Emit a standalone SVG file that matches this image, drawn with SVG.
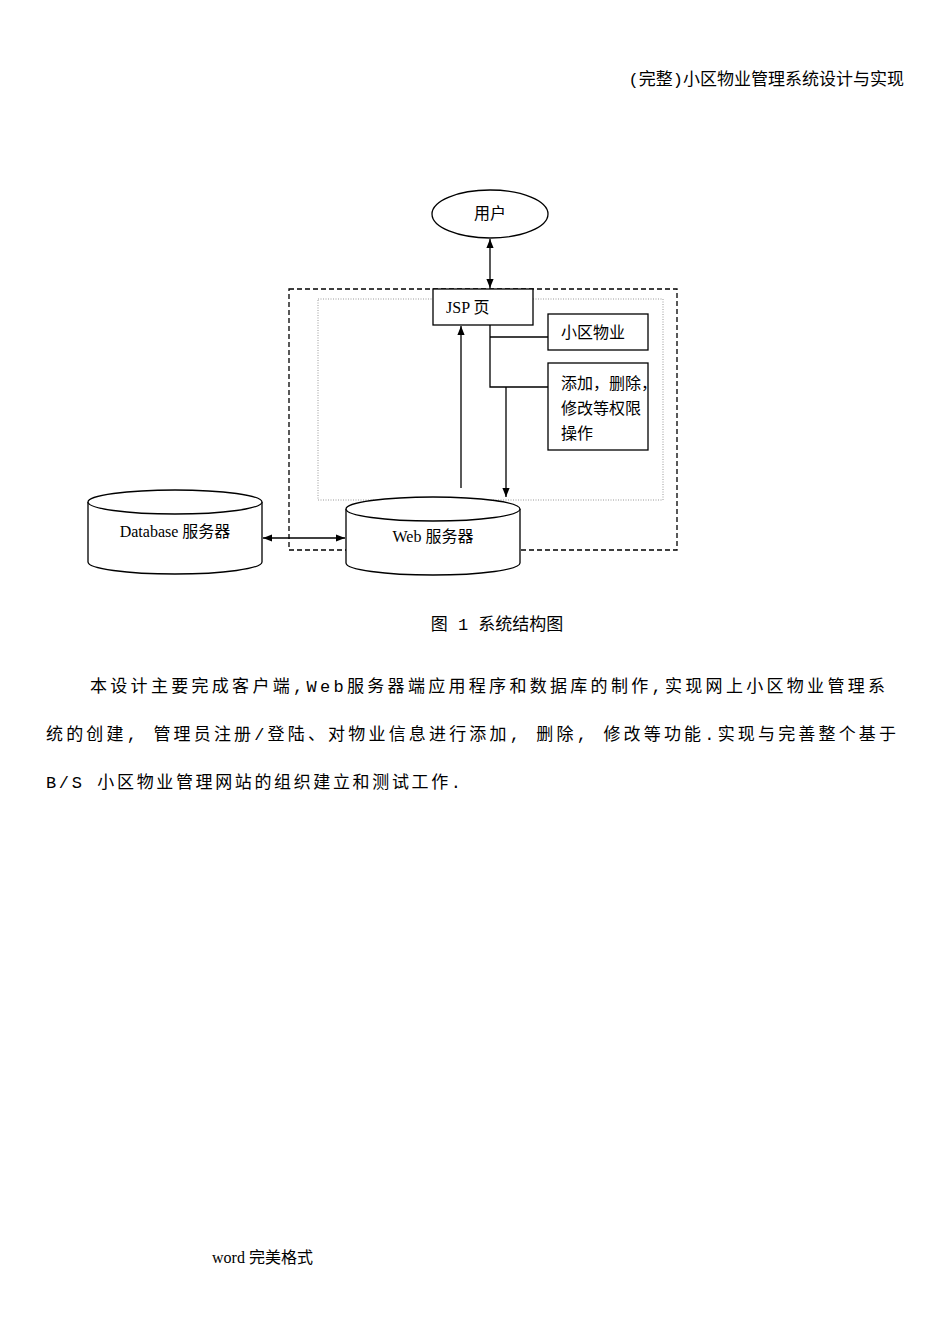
<svg xmlns="http://www.w3.org/2000/svg" width="950" height="1344" viewBox="0 0 950 1344">
<style>
.s{fill:#fff;stroke:#000;stroke-width:1.3}
.l{stroke:#000;stroke-width:1.3;fill:none}
.t{font-family:"Liberation Serif","Noto Sans CJK SC",serif;font-size:16px;fill:#000}
.p{font-family:"Liberation Mono","Noto Sans CJK SC",monospace;font-size:17px;fill:#000}
</style>
<defs><marker id="a" viewBox="0 0 10 10" refX="10" refY="5" markerWidth="9" markerHeight="9" markerUnits="userSpaceOnUse" orient="auto-start-reverse"><path d="M0,1 L10,5 L0,9 z" fill="#000"/></marker></defs>
<rect width="950" height="1344" fill="#fff"/>
<text x="904" y="85" class="p" font-size="15" text-anchor="end">(完整)小区物业管理系统设计与实现</text>
<rect x="289" y="289" width="388" height="261" fill="none" stroke="#000" stroke-width="1.3" stroke-dasharray="5,3"/>
<rect x="318" y="299" width="345" height="201" fill="none" stroke="#999" stroke-width="1" stroke-dasharray="1,1.5"/>
<g id="user"><ellipse cx="490" cy="214" rx="58" ry="24" class="s"/><text x="490" y="219" class="t" text-anchor="middle">用户</text></g>
<g id="jsp"><rect x="433" y="289" width="100" height="36" class="s"/><text x="446" y="313" class="t">JSP 页</text></g>
<g id="prop"><rect x="548" y="314" width="100" height="36" class="s"/><text x="561" y="338" class="t">小区物业</text></g>
<g id="ops"><rect x="548" y="363" width="100" height="87" class="s"/><text x="561" y="389" class="t" font-size="14.5">添加，删除，</text><text x="561" y="414" class="t" font-size="14.5">修改等权限</text><text x="561" y="439" class="t" font-size="14.5">操作</text></g>
<g id="db"><path d="M88,502 L88,562 A87,12 0 0 0 262,562 L262,502" class="s"/><ellipse cx="175" cy="502" rx="87" ry="12" class="s"/><text x="175" y="537" class="t" text-anchor="middle">Database 服务器</text></g>
<g id="web"><path d="M346,509 L346,563 A87,12 0 0 0 520,563 L520,509" class="s"/><ellipse cx="433" cy="509" rx="87" ry="12" class="s"/><text x="433" y="542" class="t" text-anchor="middle">Web 服务器</text></g>
<g id="connectors">
<line x1="490" y1="239" x2="490" y2="288" class="l" stroke-width="2" marker-start="url(#a)" marker-end="url(#a)"/>
<polyline points="490,325 490,387 548,387" class="l"/>
<line x1="490" y1="337" x2="548" y2="337" class="l"/>
<line x1="506" y1="387" x2="506" y2="497" class="l" marker-end="url(#a)"/>
<line x1="461" y1="488" x2="461" y2="326" class="l" marker-end="url(#a)"/>
<line x1="263" y1="538" x2="345" y2="538" class="l" stroke-width="2" marker-start="url(#a)" marker-end="url(#a)"/>
</g>
<text x="497" y="630" class="p" font-size="16" text-anchor="middle">图 1 系统结构图</text>
<text x="90" y="692" class="p" textLength="795">本设计主要完成客户端,Web服务器端应用程序和数据库的制作,实现网上小区物业管理系</text>
<text x="46" y="740" class="p" textLength="850">统的创建, 管理员注册/登陆、对物业信息进行添加, 删除, 修改等功能.实现与完善整个基于</text>
<text x="46" y="788" class="p" textLength="415">B/S 小区物业管理网站的组织建立和测试工作.</text>
<text x="212" y="1263" class="t" font-size="14">word 完美格式</text>
</svg>
